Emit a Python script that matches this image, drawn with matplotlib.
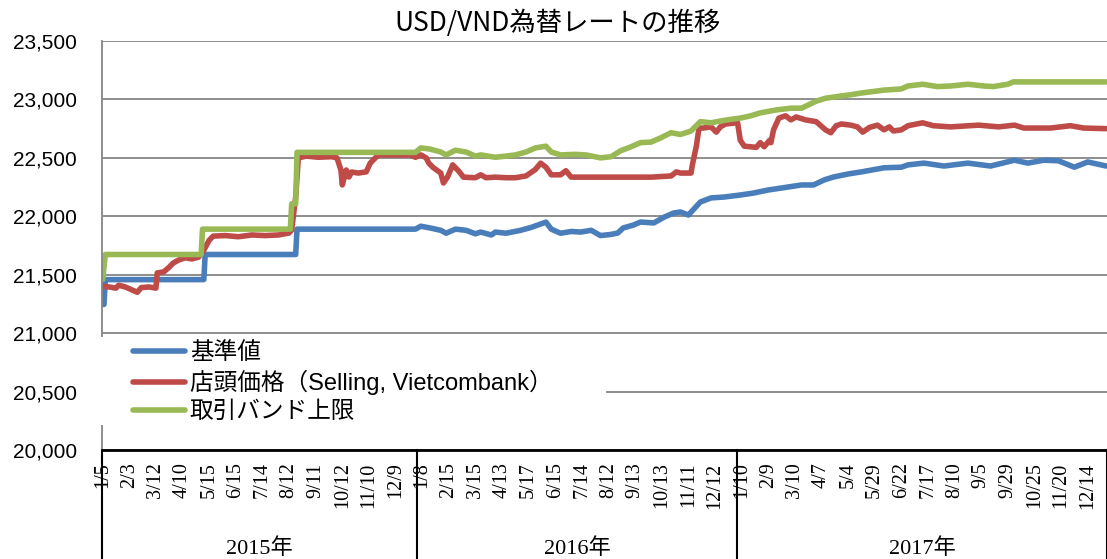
import matplotlib
matplotlib.use("Agg")
import matplotlib.pyplot as plt
import matplotlib.transforms as mtransforms
from matplotlib.patches import Rectangle
from matplotlib.font_manager import FontProperties
from matplotlib.ticker import FuncFormatter

# trading-day index (0 = 2015/1/5) and rates
base_day = [0, 1, 2, 76, 77, 145, 146, 235, 239, 246, 254, 258, 265, 273, 280, 284, 292, 295,
            303, 314, 322, 333, 337, 344, 352, 359, 367, 374, 382, 387, 391, 399, 404, 414, 422,
            429, 434, 440, 449, 457, 467, 479, 489, 500, 510, 525, 534, 542, 549, 560, 570, 587,
            600, 605, 617, 632, 650, 667, 685, 695, 707, 718, 730, 740, 754]
base_rate = [21246, 21246, 21458, 21458, 21673, 21673, 21890, 21890, 21915, 21900, 21880, 21855,
             21890, 21880, 21850, 21865, 21840, 21865, 21855, 21880, 21905, 21950, 21890, 21855,
             21870, 21865, 21880, 21835, 21845, 21857, 21900, 21926, 21951, 21943, 21994, 22028,
             22037, 22011, 22122, 22157, 22165, 22182, 22199, 22225, 22242, 22268, 22268, 22311,
             22336, 22362, 22380, 22415, 22420, 22440, 22455, 22430, 22455, 22430, 22480, 22455,
             22480, 22475, 22420, 22465, 22430]

shop_day = [0, 5, 10, 12, 17, 22, 26, 29, 35, 40, 41, 46, 50, 53, 57, 62, 67, 72, 76, 80,
            83, 92, 102, 112, 122, 132, 140, 142, 145, 147, 153, 162, 172, 176, 179, 180, 183, 185,
            187, 192, 198, 201, 207, 220, 231, 235, 239, 243, 245, 248, 254, 256, 259, 263, 268,
            271, 280, 284, 288, 295, 303, 310, 318, 325, 329, 333, 337, 344, 348, 352, 367, 382,
            412, 427, 431, 434, 442, 443, 446, 448, 451, 457, 461, 464, 468, 477, 479, 482, 491,
            494, 497, 501, 502, 504, 508, 513, 517, 521, 528, 536, 543, 547, 551, 555, 562, 567,
            571, 576, 582, 587, 591, 594, 600, 605, 616, 624, 637, 658, 673, 685, 692, 712, 727,
            737, 754]
shop_rate = [21400, 21395, 21385, 21410, 21395, 21370, 21350, 21390, 21395, 21385, 21515, 21525,
             21565, 21600, 21625, 21645, 21635, 21650, 21710, 21795, 21830, 21835, 21825, 21840,
             21835, 21840, 21857, 21883, 22165, 22500, 22515, 22505, 22510, 22500, 22396, 22268,
             22396, 22336, 22379, 22370, 22380, 22455, 22525, 22525, 22525, 22505, 22525, 22500,
             22455, 22420, 22370, 22285, 22335, 22440, 22380, 22335, 22330, 22355, 22330, 22335,
             22330, 22330, 22345, 22400, 22455, 22420, 22355, 22355, 22390, 22335, 22335, 22335,
             22335, 22345, 22380, 22370, 22370, 22440, 22600, 22755, 22755, 22765, 22720, 22765,
             22790, 22800, 22650, 22600, 22590, 22630, 22595, 22650, 22630, 22740, 22840, 22860,
             22825, 22850, 22825, 22810, 22740, 22715, 22775, 22790, 22780, 22765, 22720, 22760,
             22780, 22740, 22765, 22730, 22740, 22775, 22800, 22775, 22765, 22780, 22765, 22780,
             22755, 22755, 22775, 22755, 22750]

band_day = [0, 2, 74, 75, 141, 142, 145, 146, 235, 239, 246, 254, 258, 265, 273, 280, 284, 295,
            303, 310, 318, 325, 333, 337, 344, 355, 363, 374, 382, 389, 397, 404, 412, 419, 427,
            434, 442, 449, 457, 464, 472, 479, 487, 494, 506, 517, 525, 536, 543, 555, 562, 570,
            577, 587, 600, 605, 616, 627, 637, 650, 662, 669, 680, 684, 754]
band_rate = [21460, 21673, 21673, 21890, 21890, 22107, 22107, 22547, 22547, 22585, 22575, 22550,
             22525, 22565, 22550, 22515, 22525, 22505, 22515, 22525, 22550, 22585, 22600, 22550,
             22525, 22530, 22525, 22500, 22510, 22560, 22595, 22630, 22635, 22670, 22715, 22700,
             22730, 22810, 22800, 22815, 22830, 22840, 22860, 22885, 22910, 22925, 22925, 22985,
             23010, 23030, 23040, 23055, 23065, 23080, 23090, 23115, 23130, 23110, 23115, 23130,
             23115, 23110, 23130, 23150, 23150]

series_names = ["基準値", "店頭価格（Selling, Vietcombank）", "取引バンド上限"]
date_labels = ["1/5", "2/3", "3/12", "4/10", "5/15", "6/15", "7/14", "8/12", "9/11", "10/12", "11/10", "12/9",
               "1/8", "2/15", "3/15", "4/13", "5/17", "6/15", "7/14", "8/12", "9/13", "10/13", "11/11", "12/12",
               "1/10", "2/9", "3/10", "4/7", "5/4", "5/29", "6/22", "7/17", "8/10", "9/5", "9/29", "10/25",
               "11/20", "12/14"]
year_labels = ["2015年", "2016年", "2017年"]
year_start = [0, 237, 477]
n_days = 755
label_step = 20

fig = plt.figure(figsize=(11.07, 5.59), dpi=100)
ax = fig.add_axes([102 / 1107, 1 - 450 / 559, 1005 / 1107, 409 / 559])

lines = []
for d, r, c in [(base_day, base_rate, "#4A7EBB"), (shop_day, shop_rate, "#BE4B48"),
                (band_day, band_rate, "#98B954")]:
    ln, = ax.plot(d, r, color=c, lw=4, solid_capstyle="round", solid_joinstyle="round")
    lines.append(ln)

ax.set_xlim(-0.5, n_days - 0.5)
ax.set_ylim(20000, 23500)
ax.set_yticks(range(20000, 23501, 500))
ax.yaxis.set_major_formatter(FuncFormatter(lambda v, p: f"{int(v):,}"))
ax.grid(axis="y", color="#868686", lw=1.3)
ax.set_axisbelow(True)
for s in ["top", "right"]:
    ax.spines[s].set_visible(False)
ax.spines["left"].set_color("#868686")
ax.spines["left"].set_linewidth(1.3)
ax.spines["bottom"].set_color("black")
ax.spines["bottom"].set_linewidth(2)

ax.tick_params(axis="y", length=0, pad=18, labelsize=15)
for t in ax.get_yticklabels():
    t.set_fontfamily("Liberation Sans")

ax.set_xticks(range(0, label_step * len(date_labels), label_step))
ax.set_xticklabels(date_labels, rotation=90, fontfamily="Liberation Serif", fontsize=14.5)
ax.tick_params(axis="x", length=0, pad=9)

# year groups under the date labels
trans = mtransforms.blended_transform_factory(ax.transData, ax.transAxes)
bounds = year_start + [n_days]
for b in bounds:
    ax.plot([b - 0.5, b - 0.5], [0, -0.27], transform=trans, color="black", lw=1.5, clip_on=False)
for i, lab in enumerate(year_labels):
    mid = (bounds[i] + bounds[i + 1]) / 2 - 0.5
    ax.text(mid, -0.24, lab, transform=trans, ha="center", va="center", fontsize=16,
            family=["Liberation Serif", "Noto Sans CJK JP"])

# legend over a white patch
ax.add_patch(Rectangle((-0.004, 0.061), 0.505, 0.215, transform=ax.transAxes,
                       facecolor="white", edgecolor="none", zorder=4, clip_on=False))
leg = ax.legend(lines, series_names, loc="upper left", bbox_to_anchor=(0.031, 0.263),
                frameon=False, handlelength=2.2, handletextpad=0.2, labelspacing=0.24,
                borderpad=0, borderaxespad=0,
                prop=FontProperties(family=["Liberation Sans", "Noto Sans CJK JP"], size=17))
leg.set_zorder(5)

fig.text(0.504, 0.959, "USD/VND為替レートの推移", ha="center", va="center", fontsize=19,
         family=["Noto Sans CJK JP", "DejaVu Sans"])

fig.savefig("out.png", dpi=100)
